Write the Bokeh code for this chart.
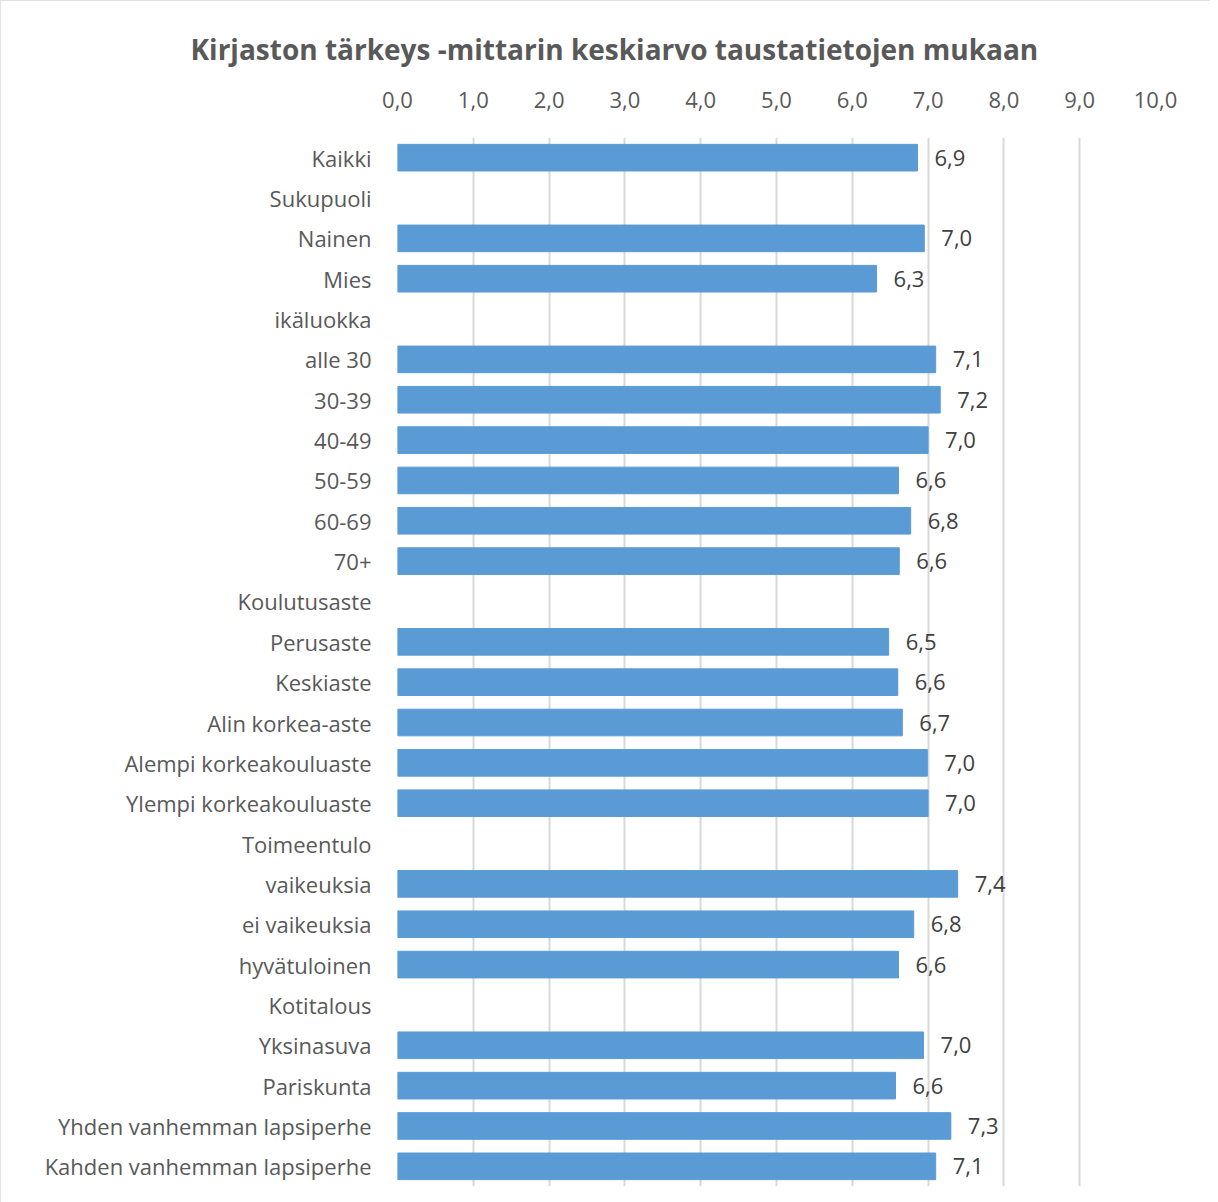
from bokeh.plotting import figure
from bokeh.models import ColumnDataSource, FactorRange, CustomJSTickFormatter
from bokeh.embed import file_html
from bokeh.resources import INLINE
from bokeh.core.properties import value

categories = ["Kaikki", "Sukupuoli", "Nainen", "Mies", "ikäluokka", "alle 30", "30-39",
              "40-49", "50-59", "60-69", "70+", "Koulutusaste", "Perusaste", "Keskiaste",
              "Alin korkea-aste", "Alempi korkeakouluaste", "Ylempi korkeakouluaste",
              "Toimeentulo", "vaikeuksia", "ei vaikeuksia", "hyvätuloinen", "Kotitalous",
              "Yksinasuva", "Pariskunta", "Yhden vanhemman lapsiperhe", "Kahden vanhemman lapsiperhe"]
values = [6.86, None, 6.95, 6.32, None, 7.10, 7.16, 7.00, 6.61, 6.77, 6.62, None, 6.48, 6.60,
          6.66, 6.99, 7.00, None, 7.39, 6.81, 6.61, None, 6.94, 6.57, 7.30, 7.10]
value_labels = ["6,9", "", "7,0", "6,3", "", "7,1", "7,2", "7,0", "6,6", "6,8", "6,6", "", "6,5", "6,6",
                "6,7", "7,0", "7,0", "", "7,4", "6,8", "6,6", "", "7,0", "6,6", "7,3", "7,1"]
x_ticks = [0, 1, 2, 3, 4, 5, 6, 7, 8, 9, 10]

cats = [c for c, v in zip(categories, values) if v is not None]
vals = [v for v in values if v is not None]
labs = [l for l, v in zip(value_labels, values) if v is not None]
src = ColumnDataSource(dict(cat=cats, val=vals, lab=labs))

p = figure(width=1210, height=1202, output_backend="svg", toolbar_location=None,
           y_range=FactorRange(*reversed(categories), range_padding=0),
           x_range=(0, 10), x_axis_location="above",
           min_border_left=397, min_border_right=55, min_border_top=137, min_border_bottom=16,
           title="Kirjaston tärkeys -mittarin keskiarvo taustatietojen mukaan")

p.hbar(y="cat", right="val", left=0, height=0.66, source=src,
       fill_color="#5B9BD5", line_color="#5B9BD5")
p.text(x="val", y="cat", text="lab", source=src, x_offset=17,
       text_baseline="middle", text_align="left", text_font_size="22px",
       text_color="#404040", text_font=value("Open Sans"))

p.outline_line_color = None
p.background_fill_color = "white"
p.border_fill_color = "white"

p.title.text_font = "Open Sans"
p.title.text_font_size = "28px"
p.title.text_font_style = "bold"
p.title.text_color = "#595959"
p.title.align = "left"
p.title.offset = -207
p.title.standoff = 41

xa = p.xaxis[0]
xa.ticker = x_ticks
xa.formatter = CustomJSTickFormatter(code="return tick.toFixed(1).replace('.', ',');")
xa.axis_line_color = None
xa.major_tick_line_color = None
xa.minor_tick_line_color = None
xa.major_label_standoff = 24
xa.major_label_text_font = "Open Sans"
xa.major_label_text_font_size = "22px"
xa.major_label_text_color = "#595959"

ya = p.yaxis[0]
ya.axis_line_color = None
ya.major_tick_line_color = None
ya.minor_tick_line_color = None
ya.major_label_standoff = 20
ya.major_label_text_font = "Open Sans"
ya.major_label_text_font_size = "22px"
ya.major_label_text_color = "#595959"

p.xgrid.grid_line_color = "#D9D9D9"
p.xgrid.grid_line_width = 2
p.ygrid.grid_line_color = None

p.styles = {"outline": "2px solid #D9D9D9", "outline-offset": "-2px"}

open("out.html", "w").write(file_html(p, INLINE))
